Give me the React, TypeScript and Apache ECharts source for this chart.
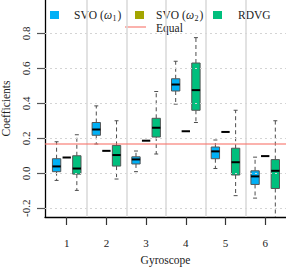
import React, { useEffect, useRef } from "react";
import * as echarts from "echarts";

const gyroscopes = [1, 2, 3, 4, 5, 6];
const yTicks = [-0.2, 0, 0.2, 0.4, 0.6, 0.8];
const separators = [1.5, 2.5, 3.5, 4.5, 5.5];
const equalValue = 1 / 6;

// [lower whisker, Q1, median, Q3, upper whisker]
const svoW1 = [
  [-0.041, 0.009, 0.039, 0.083, 0.18],
  [0.167, 0.217, 0.25, 0.29, 0.385],
  [0.009, 0.053, 0.079, 0.094, 0.127],
  [0.395, 0.47, 0.507, 0.54, 0.64],
  [0.027, 0.083, 0.125, 0.15, 0.19],
  [-0.142, -0.064, -0.018, 0.014, 0.092],
];
// degenerate boxes: single value
const svoW2 = [0.09, 0.128, 0.186, 0.24, 0.236, 0.098];
const rdvg = [
  [-0.098, -0.005, 0.027, 0.1, 0.22],
  [-0.033, 0.041, 0.104, 0.159, 0.3],
  [0.11, 0.207, 0.26, 0.314, 0.467],
  [0.29, 0.36, 0.475, 0.63, 0.775],
  [-0.128, -0.01, 0.063, 0.143, 0.36],
  [-0.32, -0.087, 0.014, 0.078, 0.3],
];

const C_BLUE = "#00B0F6";
const C_OLIVE = "#A3A500";
const C_GREEN = "#00BF7D";
const C_RED = "#F8766D";
const FONT = "Liberation Serif";
const BOX_W = 0.21;
const OFFSET = 0.255;

function boxRender(color: string) {
  return (params: any, api: any) => {
    const x = api.value(0);
    const lo = api.value(1), q1 = api.value(2), md = api.value(3), q3 = api.value(4), hi = api.value(5);
    const w = api.size([BOX_W, 0])[0];
    const cw = api.size([0.1, 0])[0];
    const [cx, yLo] = api.coord([x, lo]);
    const yQ1 = api.coord([x, q1])[1];
    const yMd = api.coord([x, md])[1];
    const yQ3 = api.coord([x, q3])[1];
    const yHi = api.coord([x, hi])[1];
    const wStyle = { stroke: "#4d4d4d", lineWidth: 1, lineDash: [4, 3] };
    const cStyle = { stroke: "#4d4d4d", lineWidth: 1 };
    return {
      type: "group",
      children: [
        { type: "line", shape: { x1: cx, y1: yQ3, x2: cx, y2: yHi }, style: wStyle },
        { type: "line", shape: { x1: cx, y1: yQ1, x2: cx, y2: yLo }, style: wStyle },
        { type: "line", shape: { x1: cx - cw / 2, y1: yHi, x2: cx + cw / 2, y2: yHi }, style: cStyle },
        { type: "line", shape: { x1: cx - cw / 2, y1: yLo, x2: cx + cw / 2, y2: yLo }, style: cStyle },
        {
          type: "rect",
          shape: { x: cx - w / 2, y: yQ3, width: w, height: yQ1 - yQ3 },
          style: { fill: color, stroke: "#555", lineWidth: 1 },
        },
        { type: "line", shape: { x1: cx - w / 2, y1: yMd, x2: cx + w / 2, y2: yMd }, style: { stroke: "#000", lineWidth: 2 } },
      ],
    };
  };
}

function medianRender(params: any, api: any) {
  const x = api.value(0);
  const v = api.value(1);
  const w = api.size([BOX_W, 0])[0];
  const [cx, y] = api.coord([x, v]);
  return {
    type: "line",
    shape: { x1: cx - w / 2, y1: y, x2: cx + w / 2, y2: y },
    style: { stroke: "#000", lineWidth: 2 },
  };
}

export default function App() {
  const ref = useRef<HTMLDivElement>(null);
  useEffect(() => {
    if (!ref.current) return;
    const chart = echarts.init(ref.current, null, { renderer: "svg" });
    const svoLabel = (x: number, y: number, sub: string) => ({
      type: "group",
      x,
      y,
      children: [
        { type: "text", x: 0, y: 0, style: { text: "SVO (", fontFamily: FONT, fontSize: 11.5, fill: "#222", verticalAlign: "middle", align: "left" } },
        { type: "text", x: 30, y: 0, style: { text: "ω", fontFamily: FONT, fontStyle: "italic", fontSize: 11.5, fill: "#222", verticalAlign: "middle", align: "left" } },
        { type: "text", x: 38.5, y: 3, style: { text: sub, fontFamily: FONT, fontSize: 8, fill: "#222", verticalAlign: "middle", align: "left" } },
        { type: "text", x: 43.5, y: 0, style: { text: ")", fontFamily: FONT, fontSize: 11.5, fill: "#222", verticalAlign: "middle", align: "left" } },
      ],
    });
    const plainLabel = (x: number, y: number, txt: string) => ({
      type: "text",
      x,
      y,
      style: { text: txt, fontFamily: FONT, fontSize: 11.5, fill: "#222", verticalAlign: "middle", align: "left" },
    });
    chart.setOption({
      animation: false,
      grid: { left: 45, right: 0, top: 0, bottom: 50, outerBoundsMode: "none", containLabel: false },
      xAxis: {
        type: "value",
        min: 0.453,
        max: 6.524,
        name: "Gyroscope",
        nameLocation: "middle",
        nameGap: 37,
        nameTextStyle: { fontFamily: FONT, fontSize: 11.5, color: "#222" },
        axisLine: { show: true, onZero: false, lineStyle: { color: "#000", width: 1.3 } },
        axisTick: { show: true, customValues: gyroscopes, length: 8, lineStyle: { color: "#333", width: 1.2 } },
        axisLabel: { customValues: gyroscopes, margin: 20, fontFamily: FONT, fontSize: 11, color: "#222" },
        splitLine: { show: false },
      },
      yAxis: {
        type: "value",
        min: -0.25,
        max: 0.99,
        name: "Coefficients",
        nameLocation: "middle",
        nameGap: 26,
        nameTextStyle: { fontFamily: FONT, fontSize: 11.5, color: "#222" },
        axisLine: { show: true, lineStyle: { color: "#000", width: 1.3 } },
        axisTick: { show: true, customValues: yTicks, length: 8, lineStyle: { color: "#555", width: 1.2 } },
        axisLabel: {
          customValues: yTicks,
          rotate: 90,
          margin: 14,
          fontFamily: FONT,
          fontSize: 11,
          color: "#222",
          formatter: (v: number) => v.toFixed(1),
        },
        splitLine: { show: false },
      },
      graphic: [
        { type: "rect", shape: { x: 50, y: 11, width: 9, height: 8 }, style: { fill: C_BLUE } },
        svoLabel(74, 15, "1"),
        { type: "rect", shape: { x: 135, y: 11, width: 9, height: 8 }, style: { fill: C_OLIVE } },
        svoLabel(156, 15, "2"),
        { type: "rect", shape: { x: 213, y: 11, width: 9, height: 8 }, style: { fill: C_GREEN } },
        plainLabel(238, 15, "RDVG"),
        { type: "line", shape: { x1: 125, y1: 27, x2: 146, y2: 27 }, style: { stroke: C_RED, lineWidth: 1.5, opacity: 0.75 } },
        plainLabel(156, 28, "Equal"),
      ],
      series: [
        {
          type: "line",
          data: [],
          z: 0,
          silent: true,
          markLine: {
            silent: true,
            symbol: ["none", "none"],
            label: { show: false },
            animation: false,
            data: [
              ...yTicks.map((v) => ({ yAxis: v, lineStyle: { color: "#d4d4d4", type: [2, 3], width: 1 } })),
              ...separators.map((v) => ({ xAxis: v, lineStyle: { color: "#d9d9d9", type: "solid", width: 1.5 } })),
            ],
          },
        },
        {
          name: "SVO (ω1)",
          type: "custom",
          clip: true,
          z: 2,
          renderItem: boxRender(C_BLUE),
          encode: { x: 0, y: [1, 2, 3, 4, 5] },
          data: gyroscopes.map((g, i) => [g - OFFSET, ...svoW1[i]]),
        },
        {
          name: "SVO (ω2)",
          type: "custom",
          clip: true,
          z: 2,
          renderItem: medianRender,
          encode: { x: 0, y: 1 },
          data: gyroscopes.map((g, i) => [g, svoW2[i]]),
        },
        {
          name: "RDVG",
          type: "custom",
          clip: true,
          z: 2,
          renderItem: boxRender(C_GREEN),
          encode: { x: 0, y: [1, 2, 3, 4, 5] },
          data: gyroscopes.map((g, i) => [g + OFFSET, ...rdvg[i]]),
        },
        {
          name: "Equal",
          type: "line",
          data: [],
          z: 5,
          silent: true,
          markLine: {
            silent: true,
            symbol: ["none", "none"],
            label: { show: false },
            animation: false,
            data: [{ yAxis: equalValue, lineStyle: { color: C_RED, type: "solid", width: 1.5, opacity: 0.75 } }],
          },
        },
      ],
    });
    return () => chart.dispose();
  }, []);
  return <div ref={ref} style={{ position: "absolute", left: 0, top: 0, width: 286, height: 267 }} />;
}
